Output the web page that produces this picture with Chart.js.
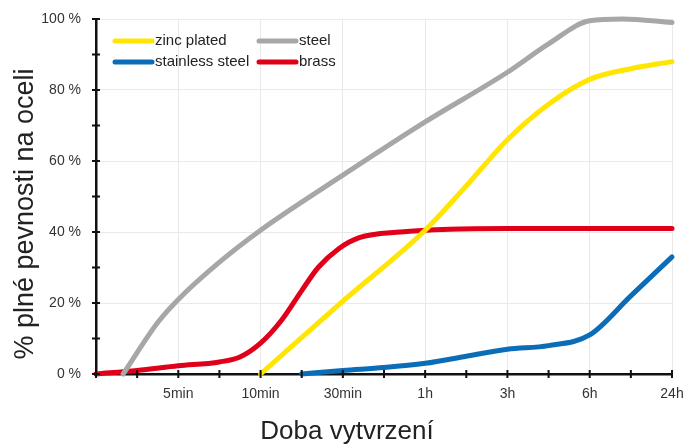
<!DOCTYPE html>
<html>
<head>
<meta charset="utf-8">
<script src="https://cdn.jsdelivr.net/npm/chart.js@4"></script>
<style>
  html, body { margin: 0; padding: 0; background: #fff; }
  #wrap { width: 686px; height: 445px; }
</style>
</head>
<body>
<div id="wrap"><canvas id="chart" width="686" height="445"></canvas></div>
<script>
// time axis labels (position 0 is the origin, no label)
const timeLabels = ["", "5min", "10min", "30min", "1h", "3h", "6h", "24h"];

// positions on the time axis and % of full strength
const zincPos = [2, 3, 4, 4.5, 5, 5.5, 6, 6.5, 7];
const zincVal = [0, 20.5, 40.5, 53, 66, 76, 83, 86, 88];

const steelPos = [0.33, 0.75, 1, 1.5, 2, 3, 4, 5, 5.5, 6, 6.4, 7];
const steelVal = [0, 14.5, 21, 31.5, 40.5, 56, 71, 85, 93, 99.5, 100, 99];

const stainlessPos = [2.5, 3, 3.5, 4, 4.5, 5, 5.5, 6, 6.5, 7];
const stainlessVal = [0, 1, 1.8, 3, 5, 7, 8, 11, 22, 33];

const brassPos = [0, 0.5, 1, 1.5, 1.75, 2, 2.25, 2.5, 2.7, 2.95, 3.2, 3.7, 4.3, 5, 6, 7];
const brassVal = [0, 1, 2.3, 3.4, 4.8, 8.7, 15, 23.5, 30, 35.3, 38.4, 40, 40.8, 41, 41, 41];

const yTitle = "% plné pevnosti na oceli";
const xTitle = "Doba vytvrzení";

function pts(pos, val) {
  return pos.map((p, i) => ({ x: p, y: val[i] }));
}

function line(label, color, pos, val) {
  return {
    label: label,
    data: pts(pos, val),
    borderColor: color,
    backgroundColor: color,
    borderWidth: 5,
    pointRadius: 0,
    cubicInterpolationMode: "monotone",
    borderCapStyle: "round",
    clip: 8
  };
}

const FONT = "'Liberation Sans', Arial, sans-serif";

// ticks that cross the axis lines
const crossTicks = {
  id: "crossTicks",
  afterDraw(chart) {
    const ctx = chart.ctx;
    const xs = chart.scales.x, ys = chart.scales.y;
    ctx.save();
    ctx.strokeStyle = "#111";
    ctx.lineWidth = 2;
    ctx.beginPath();
    xs.ticks.forEach(t => {
      const px = xs.getPixelForValue(t.value);
      ctx.moveTo(px, ys.bottom - 4);
      ctx.lineTo(px, ys.bottom + 4);
    });
    ys.ticks.forEach(t => {
      const py = ys.getPixelForValue(t.value);
      ctx.moveTo(xs.left - 4, py);
      ctx.lineTo(xs.left + 4, py);
    });
    ctx.stroke();
    ctx.restore();
  }
};

// axis titles, placed like in the picture
const axisTitles = {
  id: "axisTitles",
  afterDraw(chart) {
    const ctx = chart.ctx;
    ctx.save();
    ctx.fillStyle = "#222";
    ctx.textAlign = "center";
    ctx.textBaseline = "middle";
    ctx.font = "26px " + FONT;
    ctx.fillText(xTitle, 347, 432);
    ctx.font = "27px " + FONT;
    ctx.translate(26, 214);
    ctx.rotate(-Math.PI / 2);
    ctx.fillText(yTitle, 0, 0);
    ctx.restore();
  }
};

// two column legend inside the plot
const insideLegend = {
  id: "insideLegend",
  afterDraw(chart) {
    const ctx = chart.ctx;
    const a = chart.chartArea;
    const cols = [a.left + 19, a.left + 163];
    const rows = [a.top + 22, a.top + 43];
    ctx.save();
    ctx.font = "15px " + FONT;
    ctx.textBaseline = "middle";
    ctx.fillStyle = "#222";
    chart.data.datasets.forEach((ds, i) => {
      const x = cols[i % 2], y = rows[Math.floor(i / 2)];
      ctx.strokeStyle = ds.borderColor;
      ctx.lineWidth = 5;
      ctx.lineCap = "round";
      ctx.beginPath();
      ctx.moveTo(x, y);
      ctx.lineTo(x + 37, y);
      ctx.stroke();
      ctx.fillText(ds.label, x + 40, y);
    });
    ctx.restore();
  }
};

new Chart(document.getElementById("chart"), {
  type: "line",
  data: {
    datasets: [
      line("zinc plated", "#FFE500", zincPos, zincVal),
      line("steel", "#A7A7A7", steelPos, steelVal),
      line("stainless steel", "#0B6DB7", stainlessPos, stainlessVal),
      line("brass", "#E1001A", brassPos, brassVal)
    ]
  },
  options: {
    responsive: false,
    animation: false,
    layout: { padding: { top: 19, right: 14, left: 0, bottom: 0 } },
    plugins: {
      legend: { display: false },
      tooltip: { enabled: false }
    },
    scales: {
      x: {
        type: "linear",
        min: 0,
        max: 7,
        afterFit(s) { s.height = 71; s.paddingLeft = 0; s.paddingRight = 0; },
        ticks: {
          stepSize: 0.5,
          autoSkip: false,
          maxRotation: 0,
          padding: 12,
          color: "#333",
          font: { family: FONT, size: 14 },
          callback: v => Number.isInteger(v) ? timeLabels[v] : ""
        },
        grid: {
          drawTicks: false,
          color: c => (c.tick && Number.isInteger(c.tick.value) && c.tick.value > 0) ? "#e9e9e9" : "rgba(0,0,0,0)"
        },
        border: { color: "#111", width: 2.5 }
      },
      y: {
        min: 0,
        max: 100,
        afterFit(s) { s.width = 96; s.paddingTop = 0; s.paddingBottom = 0; },
        ticks: {
          stepSize: 10,
          autoSkip: false,
          padding: 15,
          color: "#333",
          font: { family: FONT, size: 14 },
          callback: v => v % 20 === 0 ? v + " %" : ""
        },
        grid: {
          drawTicks: false,
          color: c => (c.tick && c.tick.value % 20 === 0 && c.tick.value > 0) ? "#e9e9e9" : "rgba(0,0,0,0)"
        },
        border: { color: "#111", width: 2.5 }
      }
    }
  },
  plugins: [crossTicks, insideLegend, axisTitles]
});
</script>
</body>
</html>
